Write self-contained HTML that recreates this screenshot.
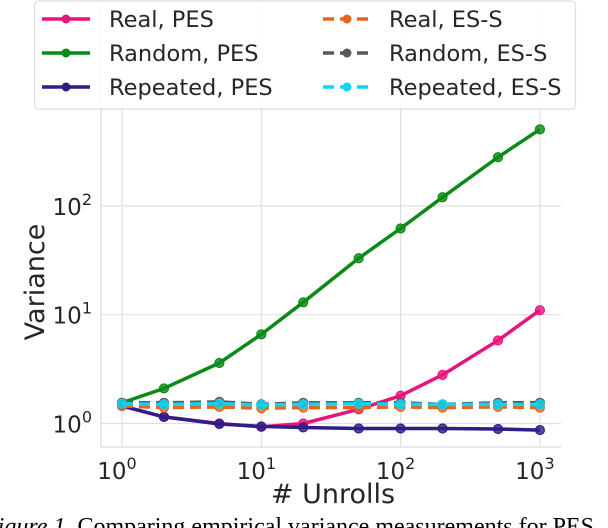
<!DOCTYPE html>
<html><head><meta charset="utf-8"><style>
html,body{margin:0;padding:0;background:#fff;}
svg{display:block;font-family:"DejaVu Sans","Liberation Sans",sans-serif;}
</style></head><body>
<svg id="chart" width="608" height="528" viewBox="0 0 608 528" xmlns="http://www.w3.org/2000/svg">
<g id="grid"></g>
<g id="series"></g>
<g id="axes"></g>
<g id="legend"></g>
<text x="-17" y="534" font-family="Liberation Serif, serif" font-size="24" fill="#000"><tspan font-style="italic">Figure 1.</tspan> Comparing empirical variance measurements for PES</text>
</svg>
<script>
const unrolls = [1, 2, 5, 10, 20, 50, 100, 200, 500, 1000];
const realPES = [1.45, 1.15, 1.0, 0.93, 1.0, 1.35, 1.8, 2.8, 5.8, 11];
const randomPES = [1.55, 2.1, 3.6, 6.6, 13, 33, 62, 120, 280, 505];
const repeatedPES = [1.45, 1.15, 0.99, 0.94, 0.92, 0.9, 0.9, 0.9, 0.89, 0.87];
const realESS = [1.45, 1.4, 1.42, 1.38, 1.4, 1.4, 1.42, 1.4, 1.42, 1.4];
const randomESS = [1.55, 1.55, 1.58, 1.5, 1.55, 1.55, 1.55, 1.5, 1.55, 1.55];
const repeatedESS = [1.52, 1.5, 1.52, 1.48, 1.5, 1.52, 1.5, 1.5, 1.5, 1.5];
const xTicks = [1, 10, 100, 1000];
const xTickExp = ["0", "1", "2", "3"];
const yTicks = [1, 10, 100];
const yTickExp = ["0", "1", "2"];

const NS = "http://www.w3.org/2000/svg";
const L = 101, R = 561, T = 0, B = 447;
function xs(v){ return 122 + Math.log10(v) * 139.3; }
function ys(v){ return 423.5 - Math.log10(v) * 108.8; }
function mk(tag, attrs, parent){
  const e = document.createElementNS(NS, tag);
  for (const k in attrs) e.setAttribute(k, attrs[k]);
  parent.appendChild(e); return e;
}
const grid = document.getElementById('grid');
const axes = document.getElementById('axes');
xTicks.forEach((t, i) => {
  const ln = mk('line', {x1: xs(t), x2: xs(t), y1: T, y2: B, stroke: '#e0e0e0', 'stroke-width': 1.2}, grid);
  
  
  const tx = mk('text', {x: xs(t) - 5, y: 479, 'text-anchor': 'middle', 'font-size': 23, fill: '#262626'}, axes);
  
  
  tx.textContent = '10';
  const sp = mk('tspan', {dy: -10, 'font-size': 16}, tx);
  sp.textContent = xTickExp[i];
});
yTicks.forEach((t, i) => {
  const ln = mk('line', {x1: L, x2: R, y1: ys(t), y2: ys(t), stroke: '#e0e0e0', 'stroke-width': 1.2}, grid);
  
  
  const tx = mk('text', {x: 92, y: ys(t) + 9, 'text-anchor': 'end', 'font-size': 23, fill: '#262626'}, axes);
  
  
  tx.textContent = '10';
  const sp = mk('tspan', {dy: -10, 'font-size': 16}, tx);
  sp.textContent = yTickExp[i];
});
const sp1 = mk('polyline', {points: `${L},${T} ${L},${B} ${R},${B}`, fill: 'none', stroke: '#dcdcdc', 'stroke-width': 1.3}, axes);


const xt = mk('text', {x: 333, y: 503, 'text-anchor': 'middle', 'font-size': 27, fill: '#262626'}, axes);


xt.textContent = '# Unrolls';
const yt = mk('text', {x: 0, y: 0, 'text-anchor': 'middle', 'font-size': 27, fill: '#262626', transform: 'translate(44,282) rotate(-90)'}, axes);


yt.textContent = 'Variance';

const seriesDefs = [
  {name: 'real-pes', label: 'Real, PES', data: realPES, color: '#e7157b', dash: null},
  {name: 'random-pes', label: 'Random, PES', data: randomPES, color: '#0a8a16', dash: null},
  {name: 'repeated-pes', label: 'Repeated, PES', data: repeatedPES, color: '#2e1e86', dash: null},
  {name: 'real-ess', label: 'Real, ES-S', data: realESS, color: '#e8661c', dash: '11,6'},
  {name: 'random-ess', label: 'Random, ES-S', data: randomESS, color: '#595959', dash: '11,6'},
  {name: 'repeated-ess', label: 'Repeated, ES-S', data: repeatedESS, color: '#12d3f0', dash: '11,6'}
];
const sg = document.getElementById('series');
seriesDefs.forEach(s => {
  const g = mk('g', {}, sg);
  
  
  const pts = s.data.map((v, j) => xs(unrolls[j]) + ',' + ys(v)).join(' ');
  const attrs = {points: pts, fill: 'none', stroke: s.color, 'stroke-width': 3.5, 'stroke-linejoin': 'round'};
  if (s.dash) attrs['stroke-dasharray'] = s.dash;
  const pl = mk('polyline', attrs, g);
  
  
  s.data.forEach((v, j) => {
    const c = mk('circle', {cx: xs(unrolls[j]), cy: ys(v), r: 4.5, fill: s.color, stroke: s.color, 'stroke-width': 1.2, 'fill-opacity': 0.8}, g);
    
    
  });
});

const lg = document.getElementById('legend');
const box = mk('rect', {x: 34.5, y: 1, width: 541, height: 108, rx: 4, fill: '#fff', 'fill-opacity': 0.85, stroke: '#dedede', 'stroke-width': 1.2}, lg);


seriesDefs.forEach((s, i) => {
  const col = Math.floor(i / 3), row = i % 3;
  const lx = col ? 323 : 42, tx = col ? 389 : 109, y = 19 + row * 34;
  const g = mk('g', {}, lg);
  
  
  const a = {x1: lx, x2: lx + 48, y1: y, y2: y, stroke: s.color, 'stroke-width': 3.5};
  if (s.dash) a['stroke-dasharray'] = '11,6';
  mk('line', a, g);
  mk('circle', {cx: lx + 24, cy: y, r: 4, fill: s.color, stroke: s.color}, g);
  const t = mk('text', {x: tx, y: y + 8, 'font-size': 22.5, fill: '#262626'}, g);
  t.textContent = s.label;
});
</script>
</body></html>
